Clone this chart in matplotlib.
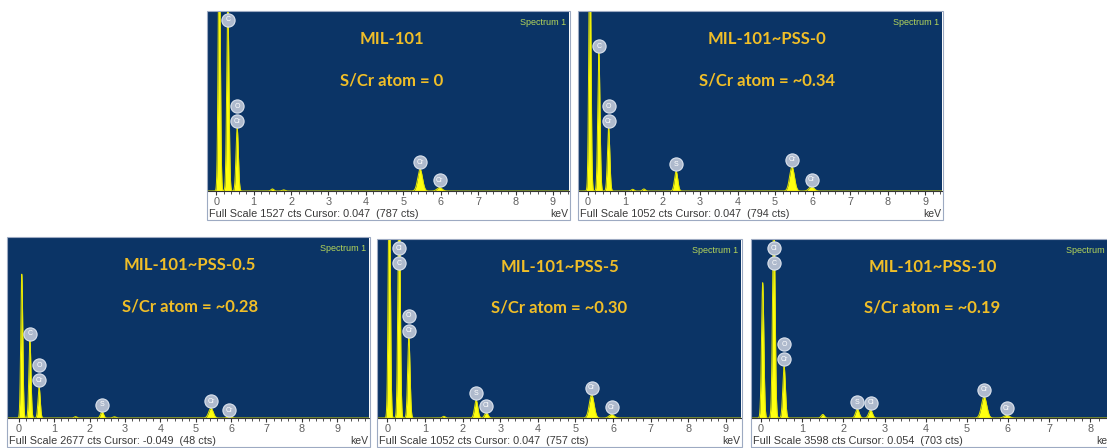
import numpy as np
import matplotlib
matplotlib.use('Agg')
import matplotlib.pyplot as plt
from matplotlib.patches import Rectangle

# ---- data (energies in keV, heights in counts) ----
titles = ['MIL-101', 'MIL-101~PSS-0', 'MIL-101~PSS-0.5', 'MIL-101~PSS-5', 'MIL-101~PSS-10']
ratios = ['S/Cr atom = 0', 'S/Cr atom = ~0.34', 'S/Cr atom = ~0.28',
          'S/Cr atom = ~0.30', 'S/Cr atom = ~0.19']
full_scale = [1527, 1052, 2677, 1052, 3598]
cursor_text = ['Cursor: 0.047  (787 cts)', 'Cursor: 0.047  (794 cts)',
               'Cursor: -0.049  (48 cts)', 'Cursor: 0.047  (757 cts)',
               'Cursor: 0.054  (703 cts)']

peak_e_1 = [0.08, 0.31, 0.56, 1.50, 1.80, 5.45, 5.97]
peak_h_1 = [2200, 1600, 535, 18, 10, 185, 30]
peak_e_2 = [0.06, 0.30, 0.56, 1.20, 1.50, 2.36, 5.45, 5.97]
peak_h_2 = [1500, 810, 370, 10, 12, 116, 142, 26]
peak_e_3 = [0.08, 0.31, 0.57, 1.60, 2.35, 2.70, 5.43, 5.95]
peak_h_3 = [2140, 1150, 455, 20, 94, 18, 147, 13]
peak_e_4 = [0.05, 0.31, 0.57, 1.50, 2.36, 2.63, 5.43, 5.96]
peak_h_4 = [1500, 1400, 473, 10, 105, 32, 137, 21]
peak_e_5 = [0.04, 0.31, 0.56, 1.50, 2.34, 2.66, 5.42, 5.97]
peak_h_5 = [2735, 4200, 1043, 72, 180, 162, 432, 54]

# element markers: energy and the stacked symbols (bottom to top)
marks_1 = [(0.31, ['C']), (0.56, ['Cr', 'O']), (5.45, ['Cr']), (5.97, ['Cr'])]
marks_2 = [(0.30, ['C']), (0.56, ['Cr', 'O']), (2.36, ['S']), (5.45, ['Cr']), (5.97, ['Cr'])]
marks_3 = [(0.31, ['C']), (0.57, ['Cr', 'O']), (2.35, ['S']), (5.43, ['Cr']), (5.95, ['Cr'])]
marks_4 = [(0.31, ['C', 'Cl']), (0.57, ['Cr', 'O']), (2.36, ['S']), (2.63, ['Cl']),
           (5.43, ['Cr']), (5.96, ['Cr'])]
marks_5 = [(0.31, ['C', 'Cl']), (0.56, ['Cr', 'O']), (2.34, ['S']), (2.66, ['Cl']),
           (5.42, ['Cr']), (5.97, ['Cr'])]

peaks_e = [peak_e_1, peak_e_2, peak_e_3, peak_e_4, peak_e_5]
peaks_h = [peak_h_1, peak_h_2, peak_h_3, peak_h_4, peak_h_5]
marks = [marks_1, marks_2, marks_3, marks_4, marks_5]

# ---- layout (pixels) ----
W, H = 1107, 448
boxes = [(208, 569, 12, 191), (579, 942, 12, 191), (8, 369, 238, 418),
         (378, 741, 240, 418), (752, 1115, 240, 418)]
xlims = [(-0.22, 9.43), (-0.23, 9.45), (-0.31, 9.9), (-0.25, 9.4), (-0.22, 8.6)]
title_x = [0.51, 0.517, 0.504, 0.50, 0.497]

navy = '#0B3466'
yellow = '#FFFF10'
gold = '#F0BE28'

fig = plt.figure(figsize=(W / 100, H / 100), dpi=100)


def spectrum(x, energies, heights):
    y = np.zeros_like(x)
    for e, h in zip(energies, heights):
        sig = 0.028 + 0.0065 * e
        y += h * np.exp(-0.5 * ((x - e) / sig) ** 2)
    return y


for i in range(5):
    x0, x1, y0, y1 = boxes[i]
    ax = fig.add_axes([x0 / W, 1 - y1 / H, (x1 - x0) / W, (y1 - y0) / H])
    ax.set_facecolor(navy)
    xs = np.linspace(xlims[i][0], xlims[i][1], 4000)
    ys = spectrum(xs, peaks_e[i], peaks_h[i])
    ax.fill_between(xs, 0, ys, color=yellow, lw=0)
    ax.plot(xs, ys, color='#E6E600', lw=0.7)
    ax.set_xlim(*xlims[i])
    ax.set_ylim(0, full_scale[i])
    ax.set_yticks([])
    ax.set_xticks(range(0, int(xlims[i][1]) + 1))
    ax.set_xticks(np.arange(0, xlims[i][1], 0.2), minor=True)
    ax.tick_params(axis='x', which='major', direction='out', length=3, width=0.8,
                   color='#333333', labelsize=7.8, labelcolor='#606060', pad=1.5)
    ax.tick_params(axis='x', which='minor', direction='out', length=2, width=0.6,
                   color='#333333')
    for s in ['left', 'right', 'top']:
        ax.spines[s].set_visible(False)
    ax.spines['bottom'].set_color('#333333')
    ax.spines['bottom'].set_linewidth(0.8)
    for lab in ax.get_xticklabels():
        lab.set_fontfamily('Liberation Sans')

    # element markers
    hpx = y1 - y0
    for e, syms in marks[i]:
        win = np.abs(xs - e) < 0.05
        frac = min(ys[win].max() / full_scale[i], 1.0)
        pos = [frac * hpx + 7 + 15 * k for k in range(len(syms))]
        if pos[-1] > hpx - 8:
            shift = pos[-1] - (hpx - 8)
            pos = [p - shift for p in pos]
        for p, sym in zip(pos, syms):
            ax.plot([e], [p / hpx], transform=ax.get_xaxis_transform(), marker='o',
                    ms=9.5, mfc='#AFBACD', mec='#DCE3EE', mew=0.8, clip_on=False, zorder=5)
            ax.text(e, p / hpx, sym, transform=ax.get_xaxis_transform(), ha='center',
                    va='center', fontsize=5, color='white', zorder=6,
                    family='Liberation Sans')

    ax.text(title_x[i], 0.85, titles[i], transform=ax.transAxes, ha='center', va='center',
            fontsize=12, fontweight='bold', color=gold, family='Lato')
    ax.text(title_x[i], 0.62, ratios[i], transform=ax.transAxes, ha='center', va='center',
            fontsize=12, fontweight='bold', color=gold, family='Lato')
    ax.text(0.993, 0.965, 'Spectrum 1', transform=ax.transAxes, ha='right', va='top',
            fontsize=6.5, color='#B5D65A', family='Liberation Sans')

    fig.text((x0 + 1) / W, 1 - (y1 + 23) / H,
             'Full Scale %d cts %s' % (full_scale[i], cursor_text[i]),
             ha='left', va='center', fontsize=7.8, color='#3A3A3A', family='Liberation Sans')
    fig.text((x1 - 1) / W, 1 - (y1 + 23) / H, 'keV', ha='right', va='center',
             fontsize=7.5, color='#3A3A3A', family='Liberation Sans')
    fig.patches.append(Rectangle(((x0 - 1) / W, 1 - (y1 + 29) / H), (x1 - x0 + 2) / W,
                                 (y1 - y0 + 30) / H, transform=fig.transFigure,
                                 fill=False, ec='#9DAAC2', lw=0.8))

fig.savefig('out.png', dpi=100)
